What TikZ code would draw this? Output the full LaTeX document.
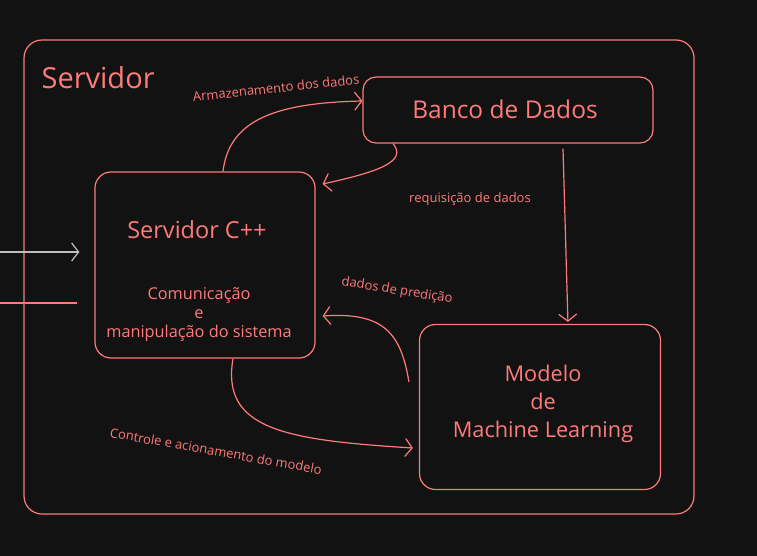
\documentclass[tikz,border=0pt]{standalone}
\usepackage{fontspec}
\setmainfont{Open Sans}
\usetikzlibrary{arrows.meta}
\definecolor{salmao}{RGB}{255,122,122}
\definecolor{fundo}{RGB}{18,18,18}
\definecolor{cinza}{RGB}{190,190,190}
\begin{document}
\begin{tikzpicture}[x=1pt, y=-1pt, line width = 1.2pt,
    caixa/.style = {draw=salmao, rounded corners=16pt, inner sep=0pt},
    texto/.style = {text=salmao, align=center, inner sep=0pt},
    seta/.style = {draw=salmao, -{Straight Barb[length=7pt,width=18pt]}},
    rotulo/.style = {text=salmao, inner sep=1pt, font=\fontsize{13}{15}\selectfont}]
  \fill [fundo] (0,0) rectangle (757,556);
  \useasboundingbox (0,0) rectangle (757,556);
  \node [caixa, minimum width=670pt, minimum height=474pt, rounded corners=18pt] (servidor) at (359,277){};
  \node [texto, anchor=west, font=\fontsize{29}{34}\selectfont] (titulo) at (41,78){Servidor};
  \node [caixa, minimum width=290pt, minimum height=66pt, rounded corners=13pt] (banco) at (508,110){};
  \node [texto, font=\fontsize{24.5}{28}\selectfont] (bancotxt) at (505,109){Banco de Dados};
  \node [caixa, minimum width=220pt, minimum height=186pt] (servidorcpp) at (205,265){};
  \node [texto, font=\fontsize{23.5}{28}\selectfont] (cpptxt) at (197,230){Servidor C++};
  \node [texto, font=\fontsize{16.3}{19}\selectfont] (cppsub) at (199,314){Comunicação\\e\\manipulação do sistema};
  \node [caixa, minimum width=241pt, minimum height=165pt] (modelo) at (540,407){};
  \node [texto, font=\fontsize{21.7}{28}\selectfont] (modelotxt) at (543,404){Modelo\\de\\Machine Learning};
  % entradas da esquerda
  \coordinate (entrada) at (0,252);
  \coordinate (saida) at (0,303);
  \draw [cinza, -{Straight Barb[length=7pt,width=18pt]}] (entrada) -- ([xshift=-15pt, yshift=13pt]servidorcpp.west);
  \draw [salmao, line width=2pt] (saida) -- ([xshift=-17pt, yshift=-38pt]servidorcpp.west);
  % ligacoes
  \draw [seta] ([xshift=18pt]servidorcpp.north) .. controls +(6,-50) and +(-90,2) .. ([yshift=9pt]banco.west);
  \draw [seta] ([xshift=-115pt]banco.south) .. controls +(15,18) and +(55,-12) .. ([xshift=7pt, yshift=81pt]servidorcpp.east);
  \draw [seta, shorten >=2pt] ([xshift=55pt, yshift=-5pt]banco.south) -- ([xshift=28pt]modelo.north);
  \draw [seta] ([xshift=-10pt, yshift=25pt]modelo.west) .. controls +(-8,-50) and +(60,-4) .. ([xshift=7pt, yshift=-51pt]servidorcpp.east);
  \draw [seta] ([xshift=28pt]servidorcpp.south) .. controls +(-12,70) and +(-130,-8) .. ([xshift=-6pt, yshift=-41pt]modelo.west);
  % rotulos
  \node [rotulo, rotate=6] (armazena) at (276,88){Armazenamento dos dados};
  \node [rotulo] (requisicao) at (470,199){requisição de dados};
  \node [rotulo, rotate=-9] (predicao) at (397,291){dados de predição};
  \node [rotulo, rotate=-10] (controle) at (216,451){Controle e acionamento do modelo};
\end{tikzpicture}
\end{document}
